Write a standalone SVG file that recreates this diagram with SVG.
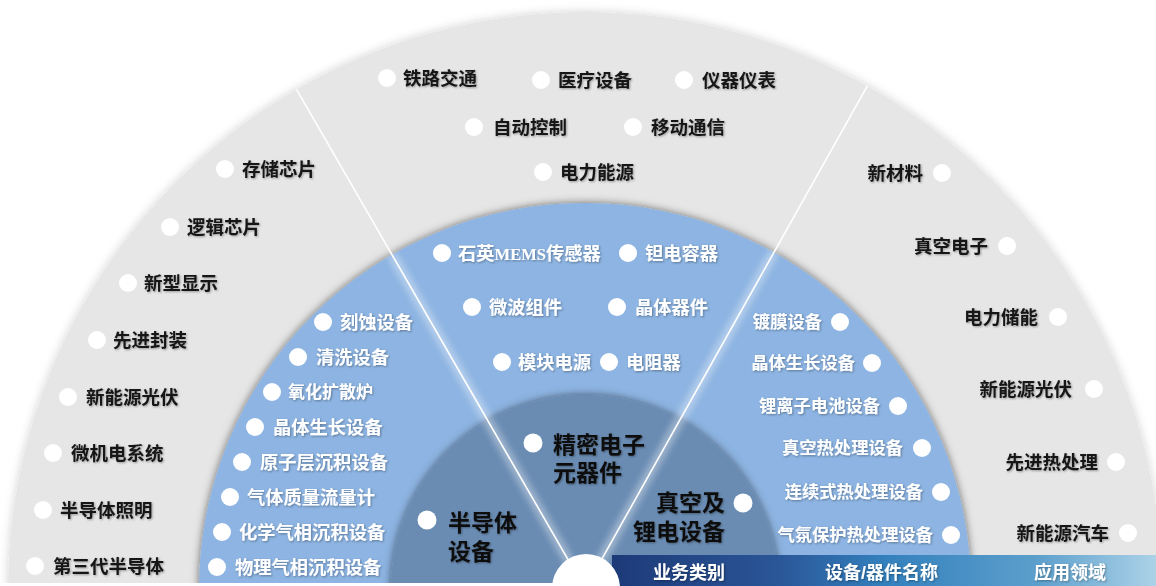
<svg xmlns="http://www.w3.org/2000/svg" width="1156" height="586" viewBox="0 0 1156 586">
<defs>
<clipPath id="cut"><rect x="0" y="0" width="1156" height="583"/></clipPath>
<filter id="sh" x="-10%" y="-10%" width="120%" height="120%"><feDropShadow dx="0" dy="0" stdDeviation="4" flood-color="#000" flood-opacity="0.55"/></filter>
<filter id="sh2" x="-10%" y="-10%" width="120%" height="120%"><feDropShadow dx="0" dy="0" stdDeviation="5" flood-color="#000" flood-opacity="0.18"/></filter>
<filter id="ts" x="-10%" y="-30%" width="120%" height="160%"><feDropShadow dx="1" dy="1" stdDeviation="0.8" flood-color="#000" flood-opacity="0.35"/></filter>
<filter id="glow" x="-20%" y="-20%" width="140%" height="140%"><feGaussianBlur stdDeviation="3"/></filter>
<linearGradient id="bar" x1="0" y1="0" x2="1" y2="0">
<stop offset="0" stop-color="#1d3a78"/>
<stop offset="0.3" stop-color="#2a5597"/>
<stop offset="0.5" stop-color="#3380bd"/>
<stop offset="0.78" stop-color="#5c9fcc"/>
<stop offset="1" stop-color="#acd2e8"/>
</linearGradient>
<style>
text{font-family:"Liberation Sans","Noto Sans CJK SC",sans-serif;font-weight:bold}
.app{font-size:18.5px;fill:#161616}
.dev{font-size:18.3px;fill:#ffffff}
.devr{font-size:17.3px;fill:#ffffff}
.cat{font-size:23px;fill:#111111}
.bar{font-size:18px;fill:#ffffff}
.end{text-anchor:end}
.dot{fill:#ffffff}
</style>
</defs>

<g id="rings" clip-path="url(#cut)">
<circle cx="585" cy="589" r="577" fill="#e6e6e6" filter="url(#sh2)"/>
<circle cx="585" cy="589" r="386" fill="#8db4e2" filter="url(#sh)"/>
<circle cx="585" cy="589" r="194" fill="#6b8cb3" filter="url(#sh)"/>
</g>

<g id="connectors">
<g clip-path="url(#cut)" opacity="0.35" filter="url(#glow)">
<line x1="585" y1="589" x2="392" y2="255" stroke="#ffffff" stroke-width="10"/>
<line x1="585" y1="589" x2="774" y2="252" stroke="#ffffff" stroke-width="10"/>
</g>
<line x1="585" y1="589" x2="296.5" y2="89.3" stroke="#ffffff" stroke-width="1.6"/>
<line x1="585" y1="589" x2="867.4" y2="85.9" stroke="#ffffff" stroke-width="1.6"/>
</g>

<g id="bar-strip">
<rect x="612" y="555" width="544" height="31" fill="url(#bar)"/>
</g>
<g id="center">
<circle cx="586" cy="588" r="34" fill="#ffffff"/>
</g>

<g id="bar-labels" filter="url(#ts)">
<text class="bar" x="653" y="578.5">业务类别</text>
<text class="bar" x="825" y="578.5">设备/器件名称</text>
<text class="bar" x="1034" y="578.5">应用领域</text>
</g>

<g id="categories">
<g id="cat-semi"><circle class="dot" cx="427" cy="520" r="9.5"/><text class="cat" x="448" y="531" filter="url(#ts)">半导体</text><text class="cat" x="448" y="560" filter="url(#ts)">设备</text></g>
<g id="cat-precision"><circle class="dot" cx="533" cy="443" r="9.5"/><text class="cat" x="553" y="453" filter="url(#ts)">精密电子</text><text class="cat" x="553" y="481" filter="url(#ts)">元器件</text></g>
<g id="cat-vacuum"><circle class="dot" cx="743" cy="503" r="9.5"/><text class="cat end" x="725" y="511" filter="url(#ts)">真空及</text><text class="cat end" x="725" y="540" filter="url(#ts)">锂电设备</text></g>
</g>

<g id="devices-left">
<g id="d1"><circle class="dot" cx="323" cy="322" r="9"/><text class="dev" x="340" y="328.5" filter="url(#ts)">刻蚀设备</text></g>
<g id="d2"><circle class="dot" cx="298" cy="357" r="9"/><text class="dev" x="316" y="363.5" filter="url(#ts)">清洗设备</text></g>
<g id="d3"><circle class="dot" cx="272" cy="392" r="9"/><text class="dev" x="288" y="398" style="font-size:17px" filter="url(#ts)">氧化扩散炉</text></g>
<g id="d4"><circle class="dot" cx="255" cy="427" r="9"/><text class="dev" x="273" y="433.5" filter="url(#ts)">晶体生长设备</text></g>
<g id="d5"><circle class="dot" cx="242" cy="462" r="9"/><text class="dev" x="260" y="468.5" filter="url(#ts)">原子层沉积设备</text></g>
<g id="d6"><circle class="dot" cx="230" cy="497" r="9"/><text class="dev" x="247" y="503.5" filter="url(#ts)">气体质量流量计</text></g>
<g id="d7"><circle class="dot" cx="222" cy="532" r="9"/><text class="dev" x="239" y="538.5" filter="url(#ts)">化学气相沉积设备</text></g>
<g id="d8"><circle class="dot" cx="217" cy="567" r="9"/><text class="dev" x="235" y="573.5" filter="url(#ts)">物理气相沉积设备</text></g>
</g>

<g id="devices-mid">
<g id="m1"><circle class="dot" cx="442" cy="253" r="9"/><text class="dev" x="458" y="259.5" filter="url(#ts)">石英<tspan style="font-family:'Liberation Serif',serif;font-size:16.5px">MEMS</tspan>传感器</text></g>
<g id="m2"><circle class="dot" cx="628" cy="253" r="9"/><text class="dev" x="645" y="259.5" filter="url(#ts)">钽电容器</text></g>
<g id="m3"><circle class="dot" cx="472" cy="307" r="9"/><text class="dev" x="489" y="313.5" filter="url(#ts)">微波组件</text></g>
<g id="m4"><circle class="dot" cx="617" cy="307" r="9"/><text class="dev" x="635" y="313.5" filter="url(#ts)">晶体器件</text></g>
<g id="m5"><circle class="dot" cx="502" cy="362" r="9"/><text class="dev" x="518" y="368.5" filter="url(#ts)">模块电源</text></g>
<g id="m6"><circle class="dot" cx="609" cy="362" r="9"/><text class="dev" x="626" y="368.5" filter="url(#ts)">电阻器</text></g>
</g>

<g id="devices-right">
<g id="r1"><circle class="dot" cx="840" cy="322" r="9"/><text class="devr end" x="822" y="328" filter="url(#ts)">镀膜设备</text></g>
<g id="r2"><circle class="dot" cx="872" cy="363" r="9"/><text class="devr end" x="855" y="369" filter="url(#ts)">晶体生长设备</text></g>
<g id="r3"><circle class="dot" cx="898" cy="406" r="9"/><text class="devr end" x="880" y="412" filter="url(#ts)">锂离子电池设备</text></g>
<g id="r4"><circle class="dot" cx="922" cy="448" r="9"/><text class="devr end" x="903" y="454" filter="url(#ts)">真空热处理设备</text></g>
<g id="r5"><circle class="dot" cx="941" cy="492" r="9"/><text class="devr end" x="923" y="498" filter="url(#ts)">连续式热处理设备</text></g>
<g id="r6"><circle class="dot" cx="951" cy="535" r="9"/><text class="devr end" x="933" y="541" filter="url(#ts)">气氛保护热处理设备</text></g>
</g>

<g id="apps-left">
<g id="a1"><circle class="dot" cx="225" cy="169" r="9"/><text class="app" x="242" y="175.5" filter="url(#ts)">存储芯片</text></g>
<g id="a2"><circle class="dot" cx="170" cy="227" r="9"/><text class="app" x="187" y="233.5" filter="url(#ts)">逻辑芯片</text></g>
<g id="a3"><circle class="dot" cx="128" cy="283" r="9"/><text class="app" x="144" y="289.5" filter="url(#ts)">新型显示</text></g>
<g id="a4"><circle class="dot" cx="97" cy="340" r="9"/><text class="app" x="113" y="346.5" filter="url(#ts)">先进封装</text></g>
<g id="a5"><circle class="dot" cx="68" cy="397" r="9"/><text class="app" x="86" y="403.5" filter="url(#ts)">新能源光伏</text></g>
<g id="a6"><circle class="dot" cx="53" cy="453" r="9"/><text class="app" x="71" y="459.5" filter="url(#ts)">微机电系统</text></g>
<g id="a7"><circle class="dot" cx="43" cy="510" r="9"/><text class="app" x="60" y="516.5" filter="url(#ts)">半导体照明</text></g>
<g id="a8"><circle class="dot" cx="35" cy="566" r="9"/><text class="app" x="53" y="572.5" filter="url(#ts)">第三代半导体</text></g>
</g>

<g id="apps-top">
<g id="t1"><circle class="dot" cx="387" cy="78" r="9"/><text class="app" x="403" y="84.5" filter="url(#ts)">铁路交通</text></g>
<g id="t2"><circle class="dot" cx="541" cy="80" r="9"/><text class="app" x="558" y="86.5" filter="url(#ts)">医疗设备</text></g>
<g id="t3"><circle class="dot" cx="684" cy="80" r="9"/><text class="app" x="702" y="86.5" filter="url(#ts)">仪器仪表</text></g>
<g id="t4"><circle class="dot" cx="474" cy="127" r="9"/><text class="app" x="493" y="133.5" filter="url(#ts)">自动控制</text></g>
<g id="t5"><circle class="dot" cx="633" cy="127" r="9"/><text class="app" x="651" y="133.5" filter="url(#ts)">移动通信</text></g>
<g id="t6"><circle class="dot" cx="543" cy="172" r="9"/><text class="app" x="560" y="178.5" filter="url(#ts)">电力能源</text></g>
</g>

<g id="apps-right">
<g id="p1"><circle class="dot" cx="942" cy="173" r="9"/><text class="app end" x="923" y="179.5" filter="url(#ts)">新材料</text></g>
<g id="p2"><circle class="dot" cx="1007" cy="246" r="9"/><text class="app end" x="988" y="252.5" filter="url(#ts)">真空电子</text></g>
<g id="p3"><circle class="dot" cx="1058" cy="317" r="9"/><text class="app end" x="1038" y="323.5" filter="url(#ts)">电力储能</text></g>
<g id="p4"><circle class="dot" cx="1094" cy="389" r="9"/><text class="app end" x="1072" y="395.5" filter="url(#ts)">新能源光伏</text></g>
<g id="p5"><circle class="dot" cx="1116" cy="462" r="9"/><text class="app end" x="1098" y="468.5" filter="url(#ts)">先进热处理</text></g>
<g id="p6"><circle class="dot" cx="1128" cy="533" r="9"/><text class="app end" x="1109" y="539.5" filter="url(#ts)">新能源汽车</text></g>
</g>
</svg>
